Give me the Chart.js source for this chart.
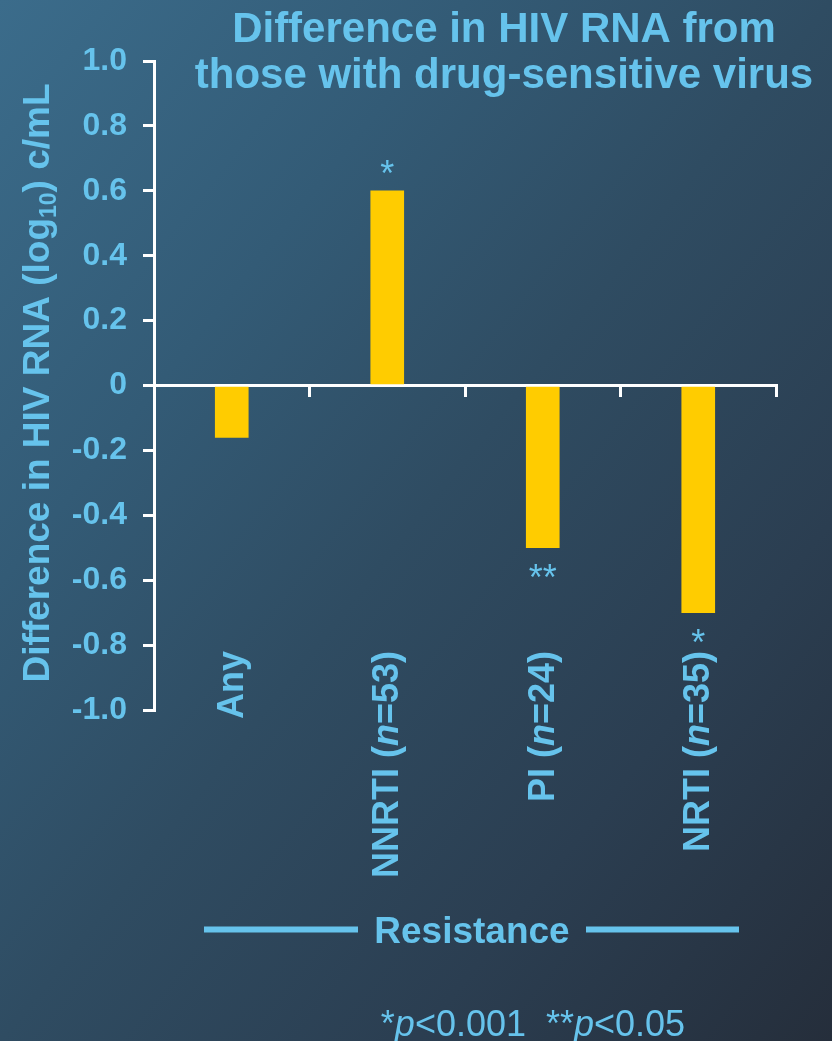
<!DOCTYPE html>
<html>
<head>
<meta charset="utf-8">
<title>Difference in HIV RNA from those with drug-sensitive virus</title>
<script src="https://cdn.jsdelivr.net/npm/chart.js@4/dist/chart.umd.min.js"></script>
<style>
  html, body { margin: 0; padding: 0; overflow: hidden; }
  body {
    width: 832px; height: 1041px;
    background: linear-gradient(to bottom right, #3b6c8b 0%, #335b76 28%, #2f4c62 50%, #2b3e51 75%, #252e3b 100%);
  }
  canvas { display: block; }
</style>
</head>
<body>
<canvas id="chart" width="832" height="1041"></canvas>
<script>
// ---- Data ----
const categoryNames = ['Any', 'NNRTI', 'PI', 'NRTI'];
const groupSizes = [null, 53, 24, 35];
const diffValues = [-0.16, 0.6, -0.5, -0.7];          // log10 c/mL difference
const significance = ['', '*', '**', '*'];
const yTickValues = [-1.0, -0.8, -0.6, -0.4, -0.2, 0, 0.2, 0.4, 0.6, 0.8, 1.0];
const titleLines = ['Difference in HIV RNA from', 'those with drug-sensitive virus'];
const axisGroupLabel = 'Resistance';
const footnote = [
  { text: '*', italic: false }, { text: 'p', italic: true }, { text: '<0.001  ', italic: false },
  { text: '**', italic: false }, { text: 'p', italic: true }, { text: '<0.05', italic: false }
];

// ---- Styling ----
const FAMILY = '"Liberation Sans", Arial, Helvetica, sans-serif';
const BLUE = '#66c3ec';
const BAR = '#ffcc00';
const WHITE = '#ffffff';

function font(size, bold, italic) {
  return (italic ? 'italic ' : '') + (bold ? 'bold ' : '') + size + 'px ' + FAMILY;
}

// Draw a sequence of differently styled text runs left-to-right from (x, y).
function runsWidth(ctx, runs) {
  let w = 0;
  for (const r of runs) { ctx.font = r.font; w += ctx.measureText(r.text).width; }
  return w;
}
function drawRuns(ctx, runs, x, y) {
  ctx.textAlign = 'left';
  ctx.textBaseline = 'alphabetic';
  let cx = x;
  for (const r of runs) {
    ctx.font = r.font;
    ctx.fillText(r.text, cx, y + (r.dy || 0));
    cx += ctx.measureText(r.text).width;
  }
  return cx - x;
}

const decorations = {
  id: 'decorations',
  afterDatasetsDraw(chart) {
    // significance marks next to the bar ends
    const ctx = chart.ctx;
    const meta = chart.getDatasetMeta(0);
    ctx.save();
    ctx.fillStyle = BLUE;
    ctx.font = font(36, false, false);
    ctx.textAlign = 'center';
    ctx.textBaseline = 'alphabetic';
    meta.data.forEach((el, i) => {
      if (!significance[i]) return;
      const p = el.getProps(['x', 'y'], true);
      const centerY = diffValues[i] >= 0 ? p.y - 26 : p.y + 22;
      ctx.fillText(significance[i], p.x, centerY + 0.575 * 36);
    });
    ctx.restore();
  },
  afterDraw(chart) {
    const ctx = chart.ctx;
    const xs = chart.scales.x;
    ctx.save();
    ctx.fillStyle = BLUE;

    // chart title
    ctx.font = font(42, true, false);
    ctx.textAlign = 'center';
    ctx.textBaseline = 'alphabetic';
    ctx.fillText(titleLines[0], 504, 42);
    ctx.fillText(titleLines[1], 504, 88);

    // y-axis title (rotated, with subscript)
    const yRuns = [
      { text: 'Difference in HIV RNA (log', font: font(37, true, false) },
      { text: '10', font: font(23, true, false), dy: 7 },
      { text: ') c/mL', font: font(37, true, false) }
    ];
    const yW = runsWidth(ctx, yRuns);
    ctx.save();
    ctx.translate(35.5 + 0.358 * 37, 383);
    ctx.rotate(-Math.PI / 2);
    drawRuns(ctx, yRuns, -yW / 2, 0);
    ctx.restore();

    // category labels, rotated, ending just above the group line
    categoryNames.forEach((name, i) => {
      const runs = groupSizes[i] == null
        ? [{ text: name, font: font(36, true, false) }]
        : [
            { text: name + ' (', font: font(36, true, false) },
            { text: 'n', font: font(36, true, true) },
            { text: '=' + groupSizes[i] + ')', font: font(36, true, false) }
          ];
      const w = runsWidth(ctx, runs);
      const cx = xs.getPixelForValue(i) - 2;
      ctx.save();
      ctx.translate(cx + 0.358 * 36, 651);
      ctx.rotate(-Math.PI / 2);
      drawRuns(ctx, runs, -w, 0);
      ctx.restore();
    });

    // group label with rules on each side
    ctx.fillRect(204, 926.5, 154, 6);
    ctx.fillRect(586, 926.5, 153, 6);
    ctx.font = font(37, true, false);
    ctx.textAlign = 'center';
    ctx.fillText(axisGroupLabel, 472, 943);

    // significance footnote
    const fRuns = footnote.map(f => ({ text: f.text, font: font(36, false, f.italic) }));
    const fW = runsWidth(ctx, fRuns);
    drawRuns(ctx, fRuns, 533 - fW / 2, 1036);

    ctx.restore();
  }
};

new Chart(document.getElementById('chart'), {
  type: 'bar',
  data: {
    labels: categoryNames.map((n, i) => groupSizes[i] == null ? n : n + ' (n=' + groupSizes[i] + ')'),
    datasets: [{
      data: diffValues,
      backgroundColor: BAR,
      borderWidth: 0,
      barThickness: 33
    }]
  },
  options: {
    responsive: false,
    animation: false,
    events: [],
    layout: { padding: { top: 61, right: 56, bottom: 331, left: 0 } },
    plugins: {
      legend: { display: false },
      title: { display: false },
      tooltip: { enabled: false }
    },
    scales: {
      x: {
        type: 'category',
        position: { y: 0 },
        grid: {
          offset: true,
          drawOnChartArea: false,
          drawTicks: true,
          tickLength: 10,
          color: WHITE,
          lineWidth: 3
        },
        border: { display: true, color: WHITE, width: 3 },
        ticks: { display: false }
      },
      y: {
        type: 'linear',
        position: 'left',
        min: -1,
        max: 1,
        afterBuildTicks(scale) {
          scale.ticks = yTickValues.map(v => ({ value: v }));
        },
        afterFit(scale) { scale.width = 154; },
        grid: {
          drawOnChartArea: false,
          drawTicks: true,
          tickLength: 11,
          color: WHITE,
          lineWidth: 3
        },
        border: { display: true, color: WHITE, width: 3 },
        ticks: {
          color: BLUE,
          padding: 16,
          font: { family: FAMILY, size: 32, weight: 'bold' },
          callback(v) { return Math.abs(v) < 1e-9 ? '0' : Number(v).toFixed(1); }
        }
      }
    }
  },
  plugins: [decorations]
});
</script>
</body>
</html>
